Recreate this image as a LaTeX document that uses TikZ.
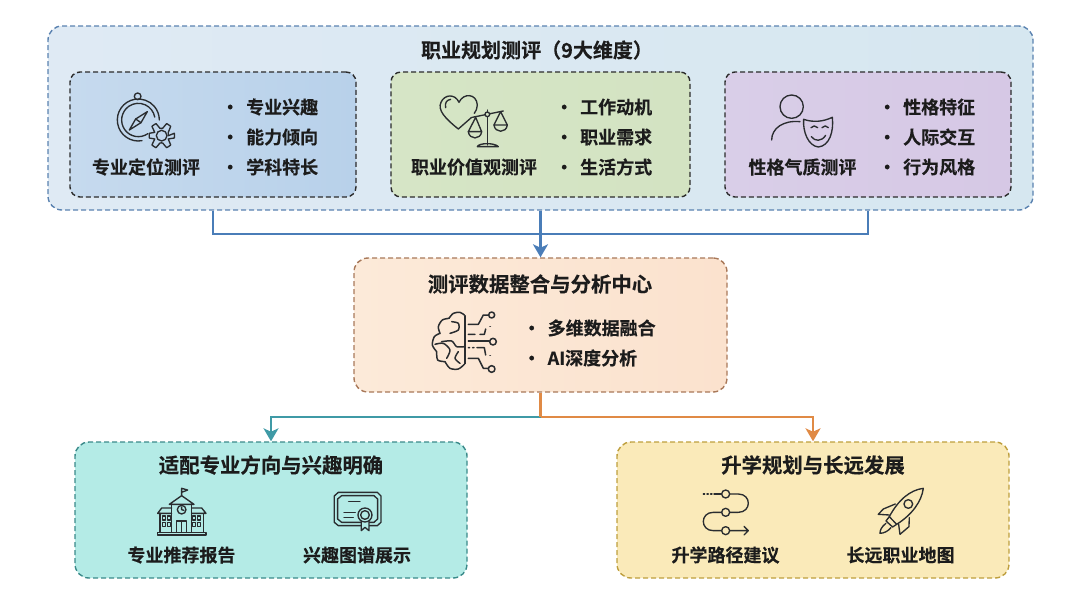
\documentclass[tikz,border=0pt]{standalone}
\usepackage{fontspec}
\setmainfont{Noto Sans CJK SC}[BoldFont={* Bold},BoldFeatures={FakeBold=0.25}]
\usetikzlibrary{arrows.meta}
\definecolor{ink}{HTML}{1C1C1C}
\definecolor{icon}{HTML}{2A2D30}
\definecolor{bluel}{HTML}{4A7DB8}
\definecolor{teall}{HTML}{3F9AA6}
\definecolor{orangel}{HTML}{E08A45}
\definecolor{outerL}{HTML}{DFEAF4}\definecolor{outerR}{HTML}{D6E7F0}\definecolor{outerD}{HTML}{5A82B0}
\definecolor{blueL}{HTML}{C6DAEE}\definecolor{blueR}{HTML}{B8D1EA}
\definecolor{greenL}{HTML}{D6E5C6}\definecolor{greenR}{HTML}{D3E3C2}
\definecolor{purpL}{HTML}{D9CEE8}\definecolor{purpR}{HTML}{D6C8E5}
\definecolor{inkD}{HTML}{2B2B2B}
\definecolor{orgL}{HTML}{FCEAD9}\definecolor{orgR}{HTML}{FBE2CE}\definecolor{orgD}{HTML}{A9795A}
\definecolor{tealF}{HTML}{B4EBE6}\definecolor{tealD}{HTML}{3A8A8A}
\definecolor{yelF}{HTML}{FAEAB9}\definecolor{yelD}{HTML}{BE9F3E}
\tikzset{
  panel/.style={rounded corners=#1,dash pattern=on 5pt off 3pt,line width=1.4pt,inner sep=0pt},
  txt/.style={inner sep=0pt,text=ink,font=\bfseries\fontsize{18}{20}\selectfont},
  ttl/.style={txt,font=\bfseries\fontsize{20.4}{22}\selectfont},
  itm/.style={txt,anchor=west},
  ic/.style={draw=icon,line width=1.35pt,line join=round,line cap=round},
  conn/.style={line width=2.8pt,draw=#1,line join=miter},
  tip/.style={-{Stealth[length=13pt,width=15pt,inset=3.5pt]}},
  zoomed/.style={shift={(#1)},x=0.3333pt,y=-0.3333pt}
}
\newcommand{\bl}[1]{\makebox[23pt][l]{\hspace{-2pt}•}#1}
\begin{document}
\begin{tikzpicture}[x=1pt,y=-1pt]
\useasboundingbox (0,0) rectangle (1080,603);
% panels
\node[panel=14pt,draw=outerD,left color=outerL,right color=outerR,minimum width=985pt,minimum height=184pt] (outer) at (540.5,118) {};
\node[panel=10pt,draw=inkD,left color=blueL,right color=blueR,minimum width=286pt,minimum height=125pt] (b1) at (213,134.5) {};
\node[panel=10pt,draw=inkD,left color=greenL,right color=greenR,minimum width=299pt,minimum height=125pt] (b2) at (540.5,134.5) {};
\node[panel=10pt,draw=inkD,left color=purpL,right color=purpR,minimum width=286pt,minimum height=125pt] (b3) at (868,134.5) {};
\node[panel=14pt,draw=orgD,left color=orgL,right color=orgR,minimum width=373pt,minimum height=134pt] (center) at (540.5,325) {};
\node[panel=14pt,draw=tealD,fill=tealF,minimum width=392pt,minimum height=136pt] (left) at (271,510) {};
\node[panel=14pt,draw=yelD,fill=yelF,minimum width=392pt,minimum height=136pt] (right) at (813,510) {};
% connectors
\coordinate (busL) at (213,234);
\coordinate (busR) at (868,234);
\coordinate (split) at (540.5,417);
\draw[conn=bluel] (outer.south -| busL) -- (busL) -- (busR) -- (outer.south -| busR);
\draw[conn=bluel,tip] (outer.south) -- (center.north);
\draw[conn=teall,tip] (split) -| (left.north);
\draw[conn=orangel,tip] (split) -| (right.north);
\draw[conn=orangel] (center.south) -- (split);
% texts
\node[ttl,font=\bfseries\fontsize{20}{22}\selectfont] (t0) at (537,50) {职业规划测评（9大维度）};
\node[txt] (l1) at (146,167) {专业定位测评};
\node[itm] (i11) at (223,107) {\bl{专业兴趣}};
\node[itm] (i12) at (223,137) {\bl{能力倾向}};
\node[itm] (i13) at (223,167) {\bl{学科特长}};
\node[txt] (l2) at (474,167) {职业价值观测评};
\node[itm] (i21) at (557,107) {\bl{工作动机}};
\node[itm] (i22) at (557,137) {\bl{职业需求}};
\node[itm] (i23) at (557,167) {\bl{生活方式}};
\node[txt] (l3) at (802.5,167) {性格气质测评};
\node[itm] (i31) at (880,107) {\bl{性格特征}};
\node[itm] (i32) at (880,137) {\bl{人际交互}};
\node[itm] (i33) at (880,167) {\bl{行为风格}};
\node[ttl] (t1) at (540,284) {测评数据整合与分析中心};
\node[itm] (c1) at (524.5,328) {\bl{多维数据融合}};
\node[itm] (c2) at (524.5,358) {\bl{AI深度分析}};
\node[ttl] (t2) at (271,465) {适配专业方向与兴趣明确};
\node[txt] (l4) at (181.5,555) {专业推荐报告};
\node[txt] (l5) at (357,555) {兴趣图谱展示};
\node[ttl] (t3) at (813,465) {升学规划与长远发展};
\node[txt] (l6) at (725.5,555) {升学路径建议};
\node[txt] (l7) at (900.5,555) {长远职业地图};
% compass + gear
\begin{scope}[zoomed={40,15},ic]
  \draw (295,315)+(80:63) arc[start angle=80,end angle=360,radius=63];
  \draw (295,315)+(55:50) arc[start angle=55,end angle=350,radius=50];
  \draw (293,244) circle (10);
  \draw (322,290) -- (303,323) -- (268,345) -- (287,312) -- cycle;
  \draw (287,312) -- (303,323);
  \draw (365,362) circle (16);
  \draw plot[smooth cycle,tension=.1] coordinates {
   (385,362)(403,355)(403,369)(385,372)(392,390)(380,398)(368,384)(360,384)(348,398)(336,390)(344,372)(328,369)(328,355)(344,352)(336,334)(348,326)(360,340)(368,340)(380,326)(392,334)(385,352)};
\end{scope}
% heart + scale
\begin{scope}[zoomed={380,60},ic]
  \draw (275,172) -- (235,207) .. controls (195,175) and (172,150) .. (183,127) .. controls (193,103) and (225,100) .. (237,127) .. controls (250,98) and (290,100) .. (292,135) .. controls (292,145) and (288,153) .. (283,160);
  \draw (197,143) .. controls (194,128) and (200,120) .. (212,118);
  \draw (277,172) -- (370,153);
  \draw (322,150) -- (322,255);
  \filldraw[fill=greenL] (322,163) circle (7);
  \draw (292,260) .. controls (296,248) and (345,248) .. (355,260) -- cycle;
  \draw (287,172) -- (265,215) -- (305,215) -- cycle;
  \draw (265,215) .. controls (268,240) and (302,240) .. (305,215);
  \draw (362,155) -- (342,195) -- (382,195) -- cycle;
  \draw (342,195) .. controls (345,220) and (379,220) .. (382,195);
\end{scope}
% person + mask
\begin{scope}[zoomed={710,60},ic]
  \draw (245,140) circle (35);
  \draw (185,240) .. controls (185,205) and (220,180) .. (270,185);
  \draw (281,178) .. controls (310,188) and (340,185) .. (367,172) .. controls (372,215) and (358,258) .. (325,261) .. controls (295,258) and (278,215) .. (281,178) -- cycle;
  \draw (303,203) .. controls (308,196) and (318,196) .. (323,203);
  \draw (336,203) .. controls (341,196) and (351,196) .. (355,203);
  \draw (304,230) .. controls (315,245) and (335,245) .. (347,226);
\end{scope}
% brain
\begin{scope}[zoomed={425,305},ic,line width=1.5pt]
  \draw (120,32) -- (120,176);
  \draw plot[smooth] coordinates {(118,30)(105,22)(85,25)(72,40)};
  \draw plot[smooth] coordinates {(72,40)(52,45)(40,65)(45,85)};
  \draw plot[smooth] coordinates {(45,85)(28,95)(22,120)(35,140)};
  \draw plot[smooth] coordinates {(35,140)(38,165)(60,170)};
  \draw plot[smooth] coordinates {(60,170)(75,190)(100,192)(118,178)};
  \draw plot[smooth] coordinates {(80,50)(100,55)(100,75)(75,85)};
  \draw plot[smooth] coordinates {(50,110)(80,108)(95,125)(118,125)};
  \draw plot[smooth] coordinates {(30,118)(55,115)(75,135)(65,160)};
  \draw plot[smooth] coordinates {(100,140)(90,160)(105,175)};
  \draw (130,58) -- (160,58) -- (175,30) -- (190,30);
  \draw (200,30) circle (9);
  \draw (130,88) -- (150,88) (165,88) -- (178,88) -- (182,72);
  \draw (195,65) -- (196,65);
  \draw (130,108) -- (193,108);
  \draw (204,110) circle (10);
  \draw (130,128) -- (134,128) (143,128) -- (147,128) (156,128) -- (178,128) -- (182,150);
  \draw (195,152) -- (196,152);
  \draw (130,160) -- (160,160) -- (175,190) -- (190,190);
  \draw (200,192) circle (10);
\end{scope}
% school
\begin{scope}[zoomed={70,435},ic]
  \draw (263,292) rectangle (408,300);
  \draw (335,182) -- (335,160) -- (353,165) -- (335,172);
  \draw (298,208) -- (335,182) -- (372,208) -- cycle;
  \draw (305,208) -- (305,292) (365,208) -- (365,292);
  \draw (335,224) circle (13);
  \draw (335,216) -- (335,224) -- (342,226);
  \draw (320,292) -- (320,258) -- (350,258) -- (350,292) (335,258) -- (335,292);
  \draw (305,219) -- (275,219) -- (263,235) -- (305,235);
  \draw (365,219) -- (395,219) -- (408,235) -- (365,235);
  \draw (270,235) -- (270,292) (401,235) -- (401,292);
  \foreach \wx in {278,292,368,382} \foreach \wy in {243,263} {\draw (\wx,\wy) rectangle +(9,12);}
\end{scope}
% certificate
\begin{scope}[zoomed={70,435},ic]
  \draw (805,172) -- (922,172) -- (933,183) -- (933,262) -- (922,272) -- (805,272) -- (793,262) -- (793,183) -- cycle;
  \draw (815,182) -- (912,182) -- (923,192) -- (923,252) -- (912,262) -- (815,262) -- (803,252) -- (803,192) -- cycle;
  \draw (836,200) -- (870,200) (822,232) -- (856,232) (822,248) -- (850,248);
  \filldraw[fill=tealF] (874,255) -- (874,287) -- (885,277) -- (897,287) -- (897,255) -- cycle;
  \filldraw[fill=tealF] (885,240) circle (21);
  \draw (885,240) circle (13);
\end{scope}
% route
\begin{scope}[zoomed={610,435},ic]
  \draw (280,177) -- (284,177) (291,177) -- (295,177) (302,177) -- (306,177) (312,177) -- (335,177);
  \draw (347,177) circle (12);
  \draw (359,177) -- (385,177) .. controls (425,177) and (425,232) .. (385,232) -- (359,232);
  \draw (347,232) circle (12);
  \draw (335,232) -- (310,232) .. controls (270,232) and (270,287) .. (310,287) -- (335,287);
  \draw (347,287) circle (12);
  \draw (359,287) -- (415,287) (402,274) -- (415,287) -- (402,300);
\end{scope}
% rocket
\begin{scope}[zoomed={610,435},ic]
  \draw (940,160) .. controls (900,165) and (865,195) .. (838,245) -- (860,268) .. controls (905,240) and (935,200) .. (940,160) -- cycle;
  \draw (895,207) circle (13);
  \draw (856,207) -- (820,222) -- (805,238) -- (838,240);
  \draw (898,248) -- (897,275) -- (870,298) -- (866,268);
  \draw (838,245) -- (828,258) -- (848,276) -- (860,268);
  \draw (828,265) .. controls (815,275) and (810,285) .. (810,295) .. controls (822,295) and (835,288) .. (843,278);
\end{scope}
\end{tikzpicture}
\end{document}
